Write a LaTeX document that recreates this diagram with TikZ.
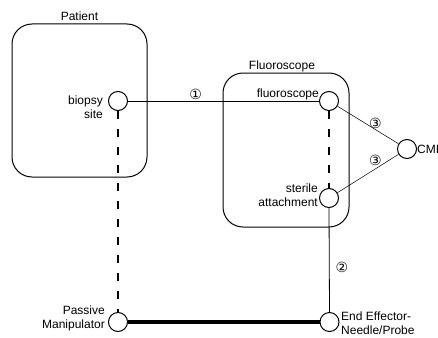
\documentclass[tikz,border=0pt]{standalone}
\usepackage{fontspec}
\setmainfont{Liberation Sans}
\newfontfamily\circfont{DejaVu Sans}
\usetikzlibrary{positioning}

\tikzset{
    zone/.style={draw, line width=1pt, rounded corners=20pt, inner sep=0pt},
    port/.style={draw, circle, line width=1pt, minimum size=19pt, inner sep=0pt, fill=white},
    txt/.style={inner sep=0pt, font=\fontsize{12}{14}\selectfont},
    num/.style={inner sep=0pt, font=\circfont\fontsize{14}{14}\selectfont},
    link/.style={line width=0.8pt},
    thinlink/.style={line width=0.5pt},
    rigid/.style={line width=4.5pt},
    virtual/.style={line width=2pt, dash pattern=on 8pt off 10pt}
}

\begin{document}
\begin{tikzpicture}[x=1pt, y=-1pt]
    \useasboundingbox (0,0) rectangle (438,337);

    %% Groups
    \node[zone, minimum width=135, minimum height=153] (patient) at (79.5,100.5) {};
    \node[zone, minimum width=126, minimum height=154] (fluorobox) at (286,150) {};
    \node[txt, above=3pt of patient] (patientlbl) {Patient};
    \node[txt, anchor=base] (fluorolbl) at (282,69) {Fluoroscope};

    %% Frames
    \node[port] (biopsy) at (118,101) {};
    \node[port] (fluoro) at (329,101) {};
    \node[port] (sterile) at (329,198) {};
    \node[port] (cmi) at (407,149) {};
    \node[port] (passive) at (118,322) {};
    \node[port] (effector) at (329.5,322) {};

    %% Frame names
    \node[txt, align=right, anchor=east] (biopsylbl) at (103,107) {biopsy\\site};
    \node[txt, anchor=base east] (fluorotxt) at (319,97) {fluoroscope};
    \node[txt, align=right, anchor=east] (sterilelbl) at (318,195) {sterile\\attachment};
    \node[txt, anchor=west] (cmilbl) at (417,149) {CMI};
    \node[txt, align=right, anchor=east] (passivelbl) at (105,318) {Passive\\Manipulator};
    \node[txt, align=left, anchor=west] (effectorlbl) at (341,323) {End Effector-\\Needle/Probe};

    %% Connections
    \draw[virtual] (biopsy.south) -- (passive.north);
    \draw[virtual] (fluoro.south) -- (sterile.north);
    \draw[rigid] (passive.east) -- (effector.west);
    \draw[link] (biopsy.east) -- node[num, pos=0.354, above=1pt] (reg1) {①} (fluoro.west);
    \draw[link] (sterile.south) -- node[num, pos=0.57, right=6pt] (reg2) {②} (effector.north);
    \draw[thinlink] (fluoro) -- node[num, pos=0.62, above=1pt] (reg3a) {③} (cmi);
    \draw[thinlink] (sterile) -- node[num, pos=0.62, above=3pt] (reg3b) {③} (cmi);
\end{tikzpicture}
\end{document}
